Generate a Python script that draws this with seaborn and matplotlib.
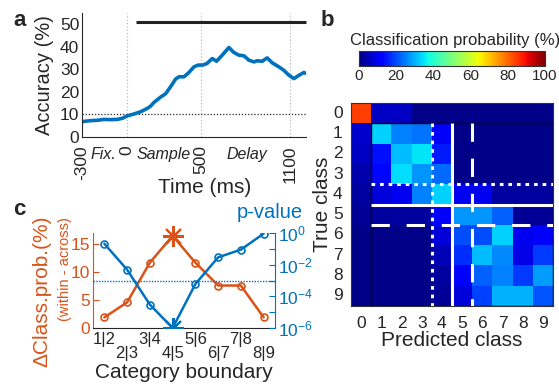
import numpy as np
import pandas as pd
import matplotlib
matplotlib.use("Agg")
import matplotlib.pyplot as plt
import matplotlib.transforms as mtransforms
from matplotlib.ticker import FixedLocator, NullFormatter
from matplotlib.patches import Rectangle
import seaborn as sns

# ---------------- data ----------------
# Panel a: population decoding accuracy across the trial
time_ms = [-300, -263, -230, -197, -152, -107, -62, -29, 5, 49, 94, 139, 161, 183,
           228, 262, 295, 329, 351, 385, 418, 452, 480, 510, 540, 575, 604, 642,
           687, 720, 754, 788, 821, 855, 877, 911, 944, 978, 1023, 1056, 1090,
           1124, 1158, 1191, 1205]
accuracy = [6.8, 7.1, 7.3, 7.4, 7.8, 7.7, 7.8, 8.3, 9.4, 10.2, 11.2, 12.7, 13.7, 15.3,
            17.7, 19.2, 22.3, 25.7, 26.7, 26.7, 28.6, 31.1, 31.9, 31.9, 32.6, 34.8,
            33.6, 36.3, 39.7, 37.5, 36.3, 36.0, 34.1, 33.3, 33.8, 33.6, 35.1, 32.9,
            31.1, 29.6, 27.4, 25.9, 27.4, 28.6, 28.2]
chance_level = 10
sig_start_ms = 60
sig_level = 51
epoch_names = ["Fix.", "Sample", "Delay"]
epoch_centers = [-158, 245, 809]
time_ticks = [-300, 0, 500, 1100]

# Panel b: confusion matrix (classification probability, %)
true_classes = list(range(10))
pred_classes = list(range(10))
class_prob = [
    [84, 6, 6, 1, 1, 1, 1, 1, 1, 1],
    [7, 33, 25, 24, 12, 1, 1, 1, 1, 1],
    [6, 14, 31, 35, 15, 1, 1, 1, 1, 1],
    [4, 13, 34, 27, 23, 1, 1, 1, 1, 1],
    [3, 8, 10, 25, 33, 10, 10, 3, 3, 3],
    [2, 3, 3, 3, 12, 27, 27, 22, 2, 2],
    [1, 1, 1, 1, 8, 20, 20, 33, 10, 12],
    [1, 1, 1, 1, 5, 17, 31, 26, 9, 18],
    [1, 1, 1, 1, 3, 12, 22, 25, 18, 28],
    [1, 1, 1, 1, 2, 8, 19, 30, 30, 21],
]
cbar_ticks = [0, 20, 40, 60, 80, 100]

# Panel c: within-minus-across classification probability per boundary
boundaries = ["1|2", "2|3", "3|4", "4|5", "5|6", "6|7", "7|8", "8|9"]
delta_prob = [1.9, 4.6, 11.7, 16.5, 11.7, 7.6, 7.6, 1.9]
p_values = [0.21, 4.8e-3, 3.0e-5, 1e-6, 6.0e-4, 0.029, 0.089, 0.91]
p_threshold = 1e-3
peak_index = 3

# ---------------- style ----------------
sns.set_style("white")
plt.rcParams["font.family"] = ["Liberation Sans", "DejaVu Sans"]
plt.rcParams["mathtext.fontset"] = "custom"
plt.rcParams["mathtext.rm"] = "Liberation Sans"
plt.rcParams["mathtext.it"] = "Liberation Sans:italic"
plt.rcParams["mathtext.default"] = "regular"

BLUE = "#0072BD"
ORANGE = "#D95319"
DARK = "#262626"

W, H = 559, 385
fig = plt.figure(figsize=(W / 100, H / 100), dpi=100)


def rect(l, t, r, b):
    return [l / W, 1 - b / H, (r - l) / W, (b - t) / H]


def ftext(x, y, s, **kw):
    fig.text(x / W, 1 - y / H, s, **kw)


# ---------------- panel a ----------------
axA = fig.add_axes(rect(82, 13, 306, 137))
sns.lineplot(x=time_ms, y=accuracy, ax=axA, color=BLUE, lw=2.6)
axA.set_xlim(-300, 1205)
axA.set_ylim(0, 55)
for t in time_ticks[1:]:
    axA.axvline(t, color="#b0b0b0", lw=0.8, ls=(0, (1, 2)), zorder=0)
axA.axhline(chance_level, color=DARK, lw=0.9, ls=(0, (1, 1.5)), zorder=1)
axA.plot([sig_start_ms, 1205], [sig_level, sig_level], color="#222222", lw=2.2,
         solid_capstyle="butt", clip_on=False)
axA.set_xticks(time_ticks)
axA.set_xticklabels(["-300", "0", "500", "1100"], rotation=90, va="top", ha="center")
axA.xaxis.set_minor_locator(FixedLocator(list(range(-200, 1200, 100))))
axA.set_yticks([0, 10, 20, 30, 40, 50])
axA.tick_params(axis="both", which="both", direction="in", length=4, width=0.8,
                color=DARK, labelcolor=DARK, labelsize=12.5)
axA.tick_params(axis="x", pad=6)
axA.tick_params(axis="y", pad=2)
for s in ("top", "right"):
    axA.spines[s].set_visible(False)
for s in ("left", "bottom"):
    axA.spines[s].set_color(DARK)
    axA.spines[s].set_linewidth(0.8)
trA = mtransforms.blended_transform_factory(axA.transData, axA.transAxes)
for name, xc in zip(epoch_names, epoch_centers):
    axA.text(xc, -0.145, name, transform=trA, ha="center", va="center",
             fontsize=11.5, style="italic", color=DARK)
axA.set_xlabel("")
axA.set_ylabel("")
ftext(205, 188, "Time (ms)", ha="center", va="center", fontsize=15, color=DARK)
ftext(44, 75, "Accuracy (%)", ha="center", va="center", rotation=90,
      fontsize=14.5, color=DARK)
ftext(20, 20, "a", ha="center", va="center", fontsize=16, fontweight="bold")

# ---------------- panel b ----------------
axB = fig.add_axes(rect(351, 103, 553, 306))
cax = fig.add_axes(rect(359, 51, 545, 66))
sns.heatmap(np.array(class_prob), ax=axB, cmap="jet", vmin=0, vmax=100,
            cbar_ax=cax, cbar_kws=dict(orientation="horizontal"),
            xticklabels=pred_classes, yticklabels=true_classes)
axB.tick_params(axis="both", length=0, labelsize=12.5, labelcolor=DARK)
axB.tick_params(axis="x", pad=7)
axB.tick_params(axis="y", pad=6)
axB.set_yticklabels(true_classes, rotation=0)
axB.set_xlabel("Predicted class", fontsize=15, color=DARK, labelpad=0)
axB.set_ylabel("True class", fontsize=15, color=DARK, labelpad=1)
for s in axB.spines.values():
    s.set_visible(True)
    s.set_color("#333333")
    s.set_linewidth(0.8)
axB.add_patch(Rectangle((1, 1), 9, 9, fill=False, ec="black", lw=1.0, zorder=3))
wkw = dict(color="white", lw=2.2, zorder=4, solid_capstyle="butt", dash_capstyle="butt")
dotted = (0, (1.2, 1.6))
dashed = (0, (6, 5.5))
axB.plot([5, 5], [1, 10], **wkw)
axB.plot([1, 10], [5, 5], **wkw)
axB.plot([4, 4], [1, 10], ls=dotted, **wkw)
axB.plot([1, 10], [4, 4], ls=dotted, **wkw)
axB.plot([6, 6], [1, 10], ls=dashed, **wkw)
axB.plot([1, 10], [6, 6], ls=dashed, **wkw)

cb = axB.collections[0].colorbar
cb.outline.set_visible(True)
cb.outline.set_linewidth(0.8)
cb.outline.set_edgecolor("#333333")
cax.xaxis.set_ticks_position("bottom")
cax.set_xticks(list(range(0, 101, 10)))
cax.set_xticklabels([str(v) if v in cbar_ticks else "" for v in range(0, 101, 10)])
cax.tick_params(axis="x", direction="in", length=5, width=0.8, color="black",
                labelsize=11, labelcolor=DARK, pad=2)
ftext(455, 41, "Classification probability (%)", ha="center", va="center",
      fontsize=12, color=DARK)
ftext(327, 20, "b", ha="center", va="center", fontsize=16, fontweight="bold")

# ---------------- panel c ----------------
axC = fig.add_axes(rect(93, 233, 275, 328))
pos = list(range(1, len(boundaries) + 1))
dfc = pd.DataFrame({"pos": pos, "delta": delta_prob, "p": p_values})
others = [i for i in range(len(pos)) if i != peak_index]
sns.lineplot(data=dfc, x="pos", y="delta", ax=axC, color=ORANGE, lw=1.8,
             marker="o", markersize=5, mfc="none", mec=ORANGE, mew=1.2,
             markevery=others)
axC.plot(pos[peak_index], delta_prob[peak_index], marker=(8, 2, 0), ms=15,
         mew=1.5, color=ORANGE, zorder=5, clip_on=False)
axC.set_xlim(0.5, 8.5)
axC.set_ylim(0, 17)
axC.set_yticks([0, 5, 10, 15])
axC.set_xticks(pos)
axC.set_xticklabels(boundaries)
axC.tick_params(axis="both", direction="in", length=4, width=0.8)
axC.tick_params(axis="x", color=DARK, labelcolor=DARK, labelsize=12)
axC.tick_params(axis="y", color=ORANGE, labelcolor=ORANGE, labelsize=12.5, pad=2)
for i, tk in enumerate(axC.xaxis.get_major_ticks()):
    tk.set_pad(3 if i % 2 == 0 else 13)
axC.set_xlabel("")
axC.set_ylabel("")

ax2 = axC.twinx()
sns.lineplot(data=dfc, x="pos", y="p", ax=ax2, color=BLUE, lw=1.8,
             marker="o", markersize=5, mfc="none", mec=BLUE, mew=1.2,
             markevery=others)
ax2.set_yscale("log")
ax2.set_ylim(1e-6, 1)
ax2.plot(pos[peak_index], p_values[peak_index], marker=(8, 2, 0), ms=15,
         mew=1.5, color=BLUE, zorder=5, clip_on=True)
ax2.axhline(p_threshold, color=BLUE, lw=1.0, ls=(0, (1, 1)))
ax2.yaxis.set_major_locator(FixedLocator([1e-6, 1e-4, 1e-2, 1]))
ax2.set_yticklabels([r"$10^{-6}$", r"$10^{-4}$", r"$10^{-2}$", r"$10^{0}$"])
ax2.yaxis.set_minor_locator(FixedLocator([1e-5, 1e-3, 1e-1]))
ax2.yaxis.set_minor_formatter(NullFormatter())
ax2.tick_params(axis="y", which="both", direction="in", length=4, width=0.8,
                color=BLUE, labelcolor=BLUE, labelsize=12.5, pad=2)
ax2.set_ylabel("")
ax2.set_xlabel("")

axC.spines["top"].set_visible(False)
axC.spines["right"].set_visible(False)
axC.spines["left"].set_color(ORANGE)
axC.spines["bottom"].set_color(DARK)
ax2.spines["top"].set_visible(False)
ax2.spines["left"].set_visible(False)
ax2.spines["bottom"].set_visible(False)
ax2.spines["right"].set_color(BLUE)
for ax in (axC, ax2):
    for s in ax.spines.values():
        s.set_linewidth(0.8)

ftext(184, 372, "Category boundary", ha="center", va="center", fontsize=15, color=DARK)
ftext(42, 291, "\u0394Class.prob.(%)", ha="center", va="center", rotation=90,
      fontsize=15, color=ORANGE)
ftext(65, 269, "(within - across)", ha="center", va="center", rotation=90,
      fontsize=10.5, color=ORANGE)
ftext(270, 213, "p-value", ha="center", va="center", fontsize=14.5, color=BLUE)
ftext(19, 210, "c", ha="center", va="center", fontsize=16, fontweight="bold")

fig.savefig("out.png", dpi=100)
